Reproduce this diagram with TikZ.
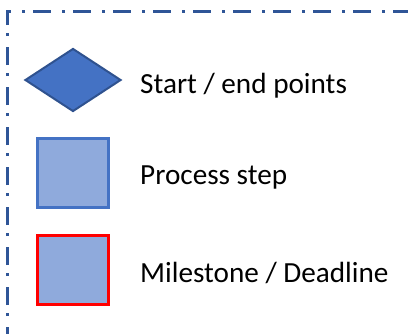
\documentclass[tikz,border=0pt]{standalone}
\usepackage{fontspec}
\usepackage{xcolor}
\setmainfont{Carlito}
\usetikzlibrary{shapes.geometric,positioning}

\definecolor{framebl}{HTML}{2F5597}
\definecolor{diafill}{HTML}{4472C4}
\definecolor{diadraw}{HTML}{2F528F}
\definecolor{procfill}{HTML}{8FAADC}
\definecolor{procdraw}{HTML}{4472C4}

\begin{document}
\begin{tikzpicture}[x = 1pt, y = 1pt,
        legendframe/.style = {draw = framebl, line width = 3pt, dash pattern = on 18pt off 11pt on 3pt off 8pt},
        startend/.style = {diamond, draw = diadraw, fill = diafill, line width = 2pt, minimum width = 96pt, minimum height = 63pt, inner sep = 0pt},
        procstep/.style = {rectangle, draw = procdraw, fill = procfill, line width = 2.5pt, minimum width = 71pt, minimum height = 69pt, inner sep = 0pt},
        milestone/.style = {procstep, draw = red, line width = 3pt},
        legendtext/.style = {anchor = base west, inner sep = 0pt, font = \fontsize{29.2}{35}\selectfont}]
        \useasboundingbox (0,0) rectangle (408,-333);
        \clip (0,0) rectangle (408,-333);
        \draw [legendframe] (7,-345) -- (7,-11) -- (410,-11) -- (410,-345);

        \node [startend] (S) at (73,-80) {};
        \node [procstep] (P) at (73,-173) {};
        \node [milestone] (M) at (73,-269.5) {};

        \node [legendtext] (tS) at (140,-93) {Start / end points};
        \node [legendtext] (tP) at (140,-184) {Process step};
        \node [legendtext] (tM) at (140,-282.5) {Milestone / Deadline};
    \end{tikzpicture}
\end{document}
